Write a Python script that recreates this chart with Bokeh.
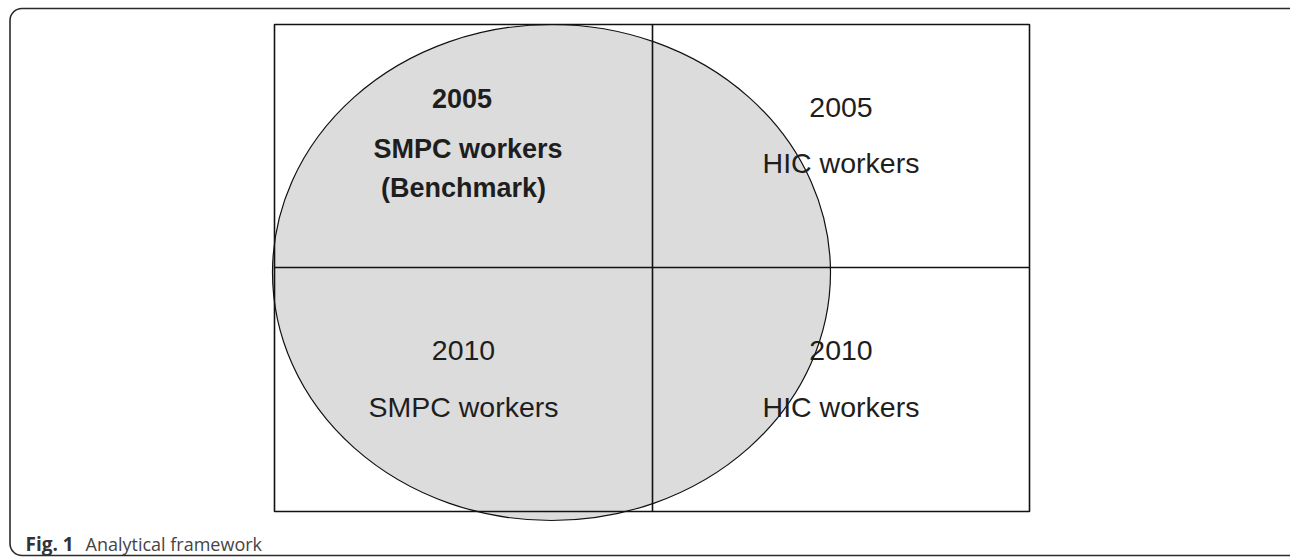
from bokeh.plotting import figure
from bokeh.models import Range1d
from bokeh.core.properties import value
from bokeh.embed import file_html
from bokeh.resources import INLINE

# ---- content ----
quadrant_years = ["2005", "2005", "2010", "2010"]
quadrant_groups = ["SMPC workers", "HIC workers", "SMPC workers", "HIC workers"]
quadrant_notes = ["(Benchmark)", "", "", ""]
quadrant_is_benchmark = [True, False, False, False]
caption_label = "Fig. 1"
caption_text = "Analytical framework"

# ---- layout (screen-like coordinates, y grows downward) ----
W, H = 1290, 557
box_left, box_right, box_top, box_bottom = 274, 1029, 24, 511
mid_x, mid_y = 652, 267

p = figure(width=W, height=H, x_range=Range1d(0, W), y_range=Range1d(H, 0),
           x_axis_type=None, y_axis_type=None, output_backend="svg",
           toolbar_location=None, min_border=0)
p.grid.visible = False
p.outline_line_color = None
p.background_fill_color = "white"
p.border_fill_color = "white"

# outer frame
p.quad(left=[9.5], right=[1302], top=[8], bottom=[555], fill_color=None,
       line_color="#2a2a2a", line_width=1.6, border_radius=12)

# benchmark ellipse (shaded region)
p.ellipse(x=[551], y=[272], width=[558], height=[496], fill_color="#dcdcdc",
          line_color="#111111", line_width=1.2)

# grid box
p.quad(left=[box_left], right=[box_right], top=[box_top], bottom=[box_bottom],
       fill_color=None, line_color="#111111", line_width=1.6)
p.segment(x0=[mid_x, box_left], y0=[box_top, mid_y], x1=[mid_x, box_right], y1=[box_bottom, mid_y],
          line_color="#111111", line_width=1.6)

# quadrant texts
col_x = [(box_left + mid_x) / 2, (mid_x + box_right) / 2]
row_y = [(box_top + mid_y) / 2, (mid_y + box_bottom) / 2]
offs_bench = [(-1.5, -48), (4.5, 2.5), (0, 41.5)]
offs_plain = [(0, -39), (0, 17), None]

rx, ry, rt = [], [], []   # regular
bx, by, bt = [], [], []   # bold
for i in range(4):
    cx = col_x[i % 2]
    cy = row_y[i // 2]
    offs = offs_bench if quadrant_is_benchmark[i] else offs_plain
    lines = [quadrant_years[i], quadrant_groups[i], quadrant_notes[i]]
    for t, o in zip(lines, offs):
        if t and o is not None:
            tx, ty, tt = (bx, by, bt) if quadrant_is_benchmark[i] else (rx, ry, rt)
            tx.append(cx + o[0])
            ty.append(cy + o[1])
            tt.append(t)

p.text(x=rx, y=ry, text=rt, text_font=value("Liberation Sans"),
       text_font_size="28.5px", text_color="#1e1e1e",
       text_align="center", text_baseline="middle")
p.text(x=bx, y=by, text=bt, text_font=value("Liberation Sans"),
       text_font_size="27px", text_font_style="bold", text_color="#1e1e1e",
       text_align="center", text_baseline="middle")

# caption
p.text(x=[25], y=[543], text=[caption_label], text_font=value("Open Sans"),
       text_font_size="19px", text_font_style="bold", text_color="#333333",
       text_align="left", text_baseline="alphabetic")
p.text(x=[85], y=[543], text=[caption_text], text_font=value("Open Sans"),
       text_font_size="18px", text_color="#444444",
       text_align="left", text_baseline="alphabetic")

open("out.html", "w").write(file_html(p, INLINE))
